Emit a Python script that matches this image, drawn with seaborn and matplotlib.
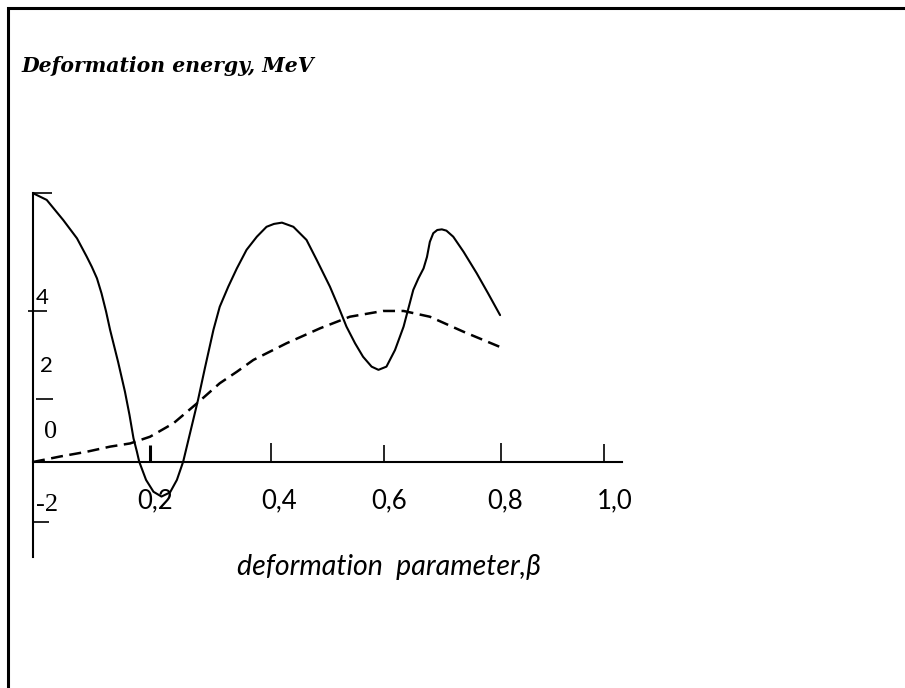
import matplotlib
matplotlib.use("Agg")
import matplotlib.pyplot as plt
import seaborn as sns
import pandas as pd
from matplotlib.lines import Line2D

# Deformation energy (MeV) versus deformation parameter beta
beta_solid = [0.000, 0.024, 0.053, 0.077, 0.094, 0.103, 0.112, 0.120, 0.128, 0.135,
              0.149, 0.161, 0.169, 0.176, 0.182, 0.186, 0.198, 0.211, 0.225, 0.240,
              0.252, 0.263, 0.275, 0.289, 0.301, 0.316, 0.327, 0.342, 0.357, 0.374,
              0.392, 0.409, 0.422, 0.436, 0.456, 0.479, 0.497, 0.520, 0.535, 0.549,
              0.564, 0.578, 0.593, 0.605, 0.619, 0.634, 0.649, 0.666, 0.675, 0.684,
              0.690, 0.695, 0.701, 0.708, 0.716, 0.724, 0.736, 0.754, 0.777, 0.797,
              0.818]
energy_solid = [8.40, 8.19, 7.56, 6.99, 6.42, 6.10, 5.74, 5.27, 4.70, 4.13,
                3.13, 2.20, 1.47, 0.74, 0.32, 0.01, -0.56, -0.93, -1.08, -0.95,
                -0.56, 0.01, 0.90, 1.94, 2.93, 4.13, 4.85, 5.48, 6.05, 6.63,
                7.04, 7.35, 7.44, 7.48, 7.35, 6.94, 6.31, 5.48, 4.85, 4.23,
                3.71, 3.29, 2.98, 2.88, 2.98, 3.50, 4.23, 5.38, 5.74, 6.05,
                6.41, 6.88, 7.15, 7.25, 7.27, 7.23, 7.04, 6.57, 5.90, 5.27,
                4.59]

beta_dashed = [0.000, 0.047, 0.094, 0.135, 0.170, 0.205, 0.246, 0.287, 0.327, 0.357,
               0.386, 0.444, 0.503, 0.555, 0.613, 0.649, 0.695, 0.754, 0.824]
energy_dashed = [0.00, 0.17, 0.32, 0.48, 0.58, 0.79, 1.21, 1.83, 2.46, 2.82,
                 3.19, 3.71, 4.18, 4.54, 4.72, 4.72, 4.54, 4.07, 3.55]

x_tick_labels = ["0,2", "0,4", "0,6", "0,8", "1,0"]
y_tick_labels = ["4", "2", "0", "-2"]

# hand-placed tick marks and label anchors (beta / MeV units)
x_tick_pos = [0.205, 0.417, 0.615, 0.820, 1.000]
x_tick_top = [0.53, 0.59, 0.53, 0.59, 0.56]
x_label_pos = [0.214, 0.431, 0.624, 0.827, 1.019]
y_tick_pos = [8.41, 4.72, 1.97, -1.875]
y_tick_span = [(0.0, 0.033), (-0.009, 0.0245), (0.005, 0.035), (0.0, 0.028)]
y_label_x = [0.016, 0.023, 0.030, 0.025]
y_label_y = [5.12, 3.00, 0.94, -1.34]
y_label_serif = [False, False, True, True]

sns.set_style("white")
plt.rcParams["font.family"] = ["Lato", "DejaVu Sans"]

fig = plt.figure(figsize=(9.05, 6.88), dpi=100)
ax = fig.add_axes([0, 0, 1, 1])
ax.set_xlim(-33 / 571, 872 / 571)
ax.set_ylim(-226 / 32, 462 / 32)

solid = pd.DataFrame({"beta": beta_solid, "energy": energy_solid})
dashed = pd.DataFrame({"beta": beta_dashed, "energy": energy_dashed})
sns.lineplot(data=solid, x="beta", y="energy", ax=ax, color="black", lw=1.5,
             sort=False, solid_joinstyle="round")
sns.lineplot(data=dashed, x="beta", y="energy", ax=ax, color="black", lw=1.8,
             linestyle=(0, (4.8, 2.6)), sort=False)

# axes drawn through the origin
for s in ["top", "right"]:
    ax.spines[s].set_visible(False)
for s in ["left", "bottom"]:
    ax.spines[s].set_position(("data", 0))
    ax.spines[s].set_linewidth(1.5)
    ax.spines[s].set_color("black")
ax.spines["left"].set_bounds(-2.97, 8.41)
ax.spines["bottom"].set_bounds(0, 1.0315)
ax.set_xticks([])
ax.set_yticks([])
ax.set_xlabel("")
ax.set_ylabel("")

# tick marks
for i, (xp, top) in enumerate(zip(x_tick_pos, x_tick_top)):
    ax.plot([xp, xp], [0.03, top], color="black", lw=2.2 if i == 0 else 1.2,
            solid_capstyle="butt")
for yp, (x0, x1) in zip(y_tick_pos, y_tick_span):
    ax.plot([x0, x1], [yp, yp], color="black", lw=1.2, solid_capstyle="butt")

# tick labels
for lab, xp in zip(x_tick_labels, x_label_pos):
    ax.text(xp, -1.2, lab, ha="center", va="center", fontsize=18.5, color="black")
for lab, xp, yp, serif in zip(y_tick_labels, y_label_x, y_label_y, y_label_serif):
    ax.text(xp, yp, lab, ha="center", va="center", color="black",
            fontsize=19 if serif else 16,
            family=["Liberation Serif"] if serif else ["Lato"])

ax.text(0.6235, -3.53, "deformation  parameter,\u03b2", ha="center", va="baseline",
        fontsize=20.5, fontstyle="italic", color="black")
ax.text(-0.0193, 12.19, "Deformation energy, MeV", ha="left", va="baseline",
        fontsize=14.7, fontweight="bold", fontstyle="italic",
        family=["DejaVu Serif"], color="black")

# page frame
fig.add_artist(Line2D([8 / 905, 8 / 905, 1.0], [0.0, 1 - 8 / 688, 1 - 8 / 688],
                      transform=fig.transFigure, color="black", lw=2.2,
                      solid_joinstyle="miter"))

fig.savefig("out.png", dpi=100)
